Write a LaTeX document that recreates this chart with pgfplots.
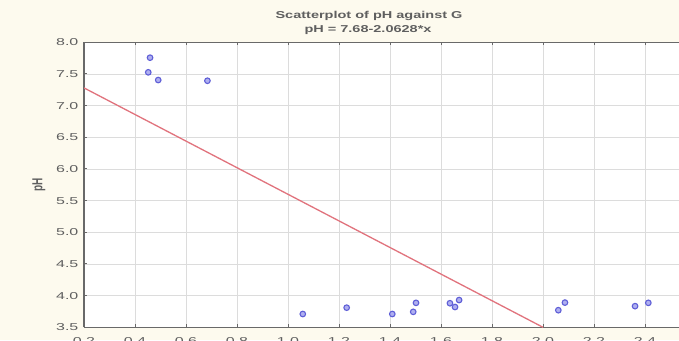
\documentclass[border=0pt]{standalone}
\usepackage{pgfplots}
\pgfplotsset{compat=1.18}
\usepackage{fontspec}
\setmainfont{Liberation Sans}
\definecolor{cream}{RGB}{253,250,238}
\definecolor{axgray}{RGB}{105,105,105}
\definecolor{txtgray}{RGB}{95,95,95}
\definecolor{gridgray}{RGB}{220,220,220}
\definecolor{ptedge}{RGB}{95,95,215}
\definecolor{ptfill}{RGB}{175,175,240}
\definecolor{fitred}{RGB}{225,115,125}
\begin{document}
\begin{tikzpicture}[x=1pt,y=1pt]
\path[use as bounding box, fill=cream] (0,0) rectangle (679,340);
\node[font=\bfseries\fontsize{10}{12}\selectfont, text=txtgray, xscale=1.45] at (369,324) {Scatterplot of pH against G};
\node[font=\bfseries\fontsize{10}{12}\selectfont, text=txtgray, xscale=1.45] at (368,309.5) {pH = 7.68-2.0628*x};
\node[font=\bfseries\fontsize{10}{12}\selectfont, text=txtgray, rotate=90, yscale=1.45] at (39,155) {pH};
\begin{axis}[
  at={(84pt,12.7pt)}, anchor=south west,
  scale only axis, width=595pt, height=285pt,
  xmin=0.2, xmax=2.5333, ymin=3.5, ymax=8.0,
  xtick={0.2,0.4,...,2.41}, ytick={3.5,4.0,...,8.01},
  xticklabel style={/tikz/yshift=-7pt, /pgf/number format/.cd, fixed, fixed zerofill, precision=1},
  yticklabel style={/pgf/number format/.cd, fixed, fixed zerofill, precision=1},
  /pgf/number format/assume math mode=true,
  ticklabel style={font=\fontsize{10}{12}\selectfont, text=txtgray, xscale=1.6},
  axis y line*=left,
  axis line style={draw=axgray, line width=1.4pt},
  axis background/.style={fill=white},
  grid=major,
  major grid style={draw=gridgray, line width=0.9pt},
  tick style={draw=axgray, line width=1pt},
  major tick length=3pt,
  tick align=inside,
  xtick pos=both,
  clip=true,
]
\addplot[draw=fitred, line width=1.3pt] coordinates {(0.2,7.28) (2.0,3.5)};
\addplot[only marks, mark=*, mark size=2.8pt, mark options={draw=ptedge, fill=ptfill, line width=1.1pt}] coordinates {
(0.459,7.757) (0.452,7.526) (0.491,7.404) (0.684,7.393)
(1.058,3.71) (1.230,3.81) (1.409,3.71) (1.491,3.744) (1.502,3.886)
(1.635,3.88) (1.655,3.82) (1.671,3.93)
(2.060,3.77) (2.086,3.89) (2.361,3.834) (2.413,3.886)
};
\end{axis}
\end{tikzpicture}
\end{document}
